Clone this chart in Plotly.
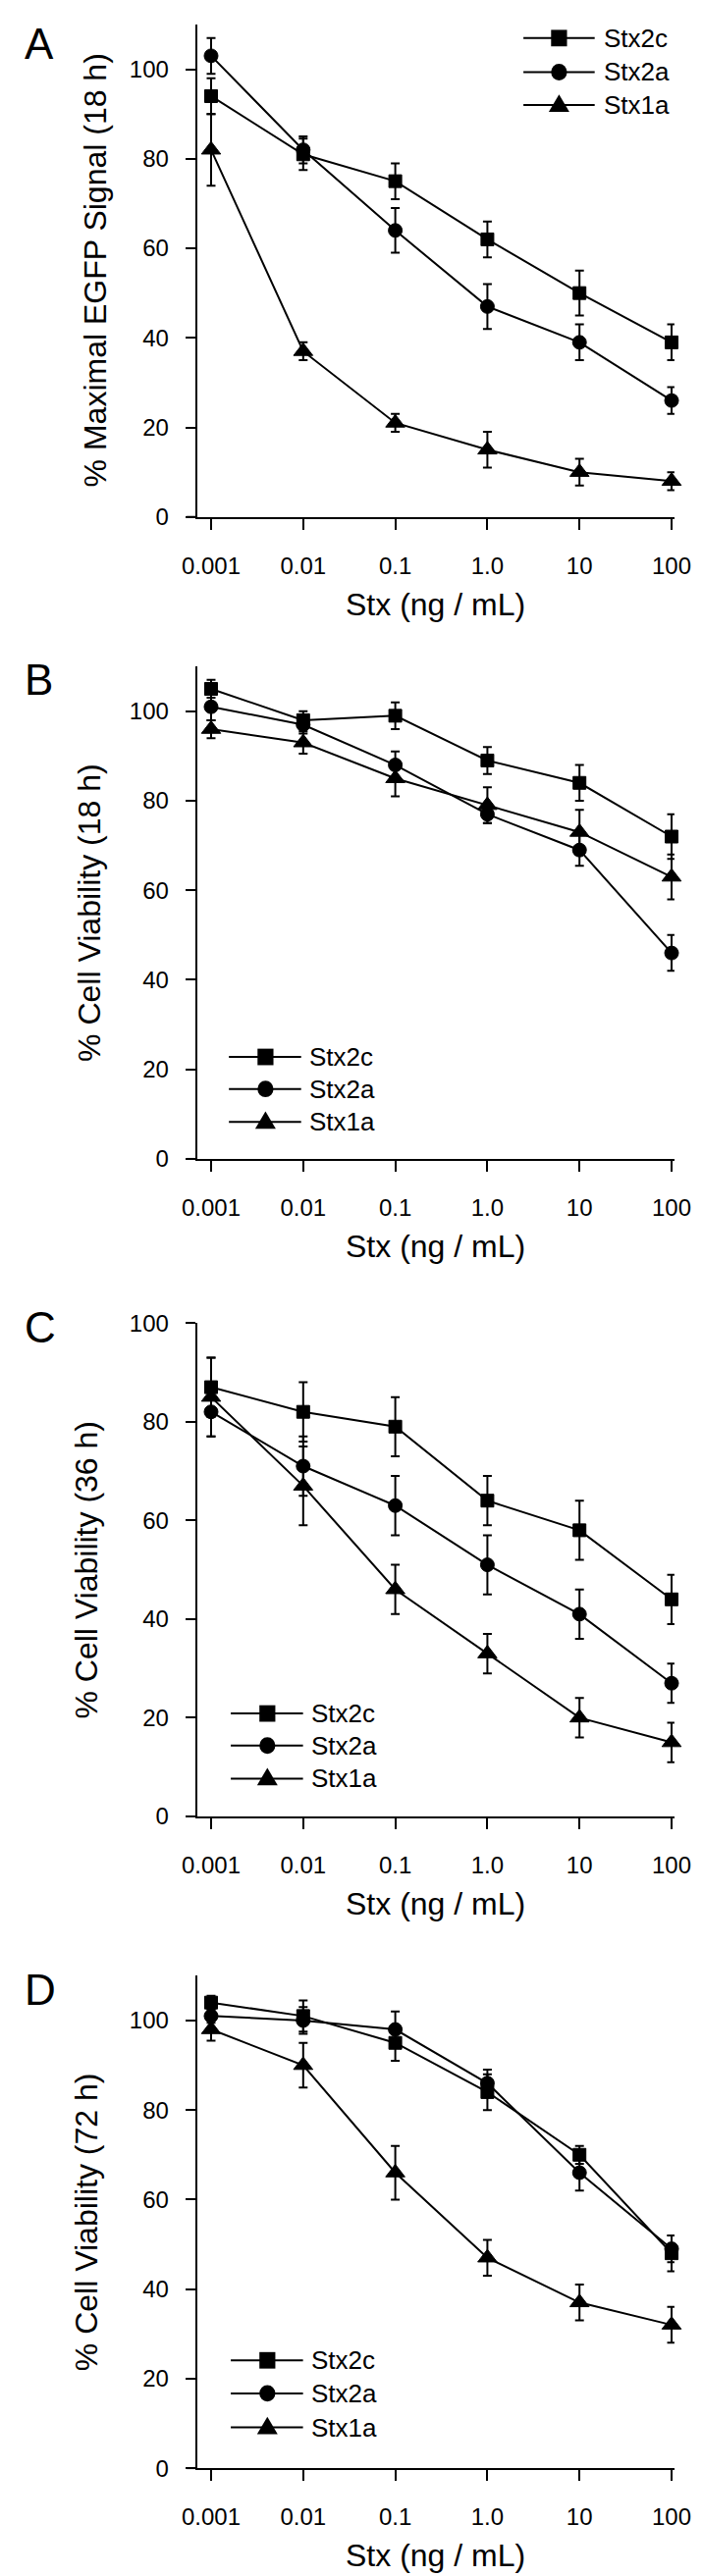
import plotly.graph_objects as go

W, H = 715, 2625

# ---------------- data ----------------
conc = [0.001, 0.01, 0.1, 1, 10, 100]
conc_labels = ["0.001", "0.01", "0.1", "1.0", "10", "100"]
series_names = ["Stx2c", "Stx2a", "Stx1a"]
y_ticks = [0, 20, 40, 60, 80, 100]

# Panel A: % Maximal EGFP Signal (18 h)
a_stx2c = [94, 81, 75, 62, 50, 39]
a_stx2c_err = [4, 3.5, 4, 4, 5, 4]
a_stx2a = [103, 82, 64, 47, 39, 26]
a_stx2a_err = [4, 3, 5, 5, 4, 3]
a_stx1a = [82, 37, 21, 15, 10, 8]
a_stx1a_err = [8, 2, 2, 4, 3, 2]

# Panel B: % Cell Viability (18 h)
b_stx2c = [105, 98, 99, 89, 84, 72]
b_stx2c_err = [2, 2, 3, 3, 4, 5]
b_stx2a = [101, 97, 88, 77, 69, 46]
b_stx2a_err = [3, 2, 3, 2, 3.5, 4]
b_stx1a = [96, 93, 85, 79, 73, 63]
b_stx1a_err = [2, 2.5, 4, 4, 5, 5]

# Panel C: % Cell Viability (36 h)
c_stx2c = [87, 82, 79, 64, 58, 44]
c_stx2c_err = [6, 6, 6, 5, 6, 5]
c_stx2a = [82, 71, 63, 51, 41, 27]
c_stx2a_err = [5, 6, 6, 6, 5, 4]
c_stx1a = [85, 67, 46, 33, 20, 15]
c_stx1a_err = [8, 8, 5, 4, 4, 4]

# Panel D: % Cell Viability (72 h)
d_stx2c = [104, 101, 95, 84, 70, 48]
d_stx2c_err = [1.5, 3.5, 4, 4, 2, 4]
d_stx2a = [101, 100, 98, 86, 66, 49]
d_stx2a_err = [1.5, 3, 4, 3, 4, 3]
d_stx1a = [98, 90, 66, 47, 37, 32]
d_stx1a_err = [2.5, 5, 6, 4, 4, 4]

panel_letters = ["A", "B", "C", "D"]
y_titles = ["% Maximal EGFP Signal (18 h)", "% Cell Viability (18 h)",
            "% Cell Viability (36 h)", "% Cell Viability (72 h)"]
x_title = "Stx (ng / mL)"

# ---------------- layout geometry (pixels) ----------------
FONT = "Liberation Sans, Arial, Helvetica, sans-serif"
px_x = lambda v: v / W
px_y = lambda v: 1 - v / H

X_AXIS_LEFT, X_AXIS_RIGHT = 186, 695
X_LINE_EXT = 175
x_range = [-3.1527, 2.0306]

panels = [
    dict(series=[(a_stx2c, a_stx2c_err), (a_stx2a, a_stx2a_err), (a_stx1a, a_stx1a_err)],
         bottom=510, top=3, ymax=110, letter_y=23, ytitle_x=77,
         leg=dict(x0=534, x1=610, mx=572, tx=618, rows=[17, 52, 86])),
    dict(series=[(b_stx2c, b_stx2c_err), (b_stx2a, b_stx2a_err), (b_stx1a, b_stx1a_err)],
         bottom=1171, top=664, ymax=110, letter_y=677, ytitle_x=71,
         leg=dict(x0=220, x1=297, mx=259, tx=304, rows=[1066, 1099, 1133])),
    dict(series=[(c_stx2c, c_stx2c_err), (c_stx2a, c_stx2a_err), (c_stx1a, c_stx1a_err)],
         bottom=1848, top=1340, ymax=100, letter_y=1344, ytitle_x=68,
         leg=dict(x0=222, x1=299, mx=261, tx=306, rows=[1742, 1775, 1809])),
    dict(series=[(d_stx2c, d_stx2c_err), (d_stx2a, d_stx2a_err), (d_stx1a, d_stx1a_err)],
         bottom=2519, top=2012, ymax=110, letter_y=2026, ytitle_x=68,
         leg=dict(x0=222, x1=299, mx=261, tx=306, rows=[2408, 2442, 2477])),
]

symbols = ["square", "circle", "triangle-up"]
sizes = [13, 14, 17]

fig = go.Figure()
layout = dict(width=W, height=H, margin=dict(l=0, r=0, t=0, b=0),
              paper_bgcolor="white", plot_bgcolor="white", showlegend=False,
              font=dict(family=FONT, color="black"))
shapes, annotations = [], []

for i, p in enumerate(panels):
    n = "" if i == 0 else str(i + 1)
    xa, ya = "x" + n, "y" + n
    for (vals, errs), name, sym, sz in zip(p["series"], series_names, symbols, sizes):
        fig.add_trace(go.Scatter(
            x=conc, y=vals, name=name, mode="lines+markers",
            xaxis=xa, yaxis=ya,
            line=dict(color="black", width=2),
            marker=dict(symbol=sym, size=sz, color="black",
                        line=dict(color="black", width=1)),
            error_y=dict(type="data", array=errs, visible=True,
                         color="black", thickness=2, width=4.5),
            cliponaxis=False,
        ))
    ydom = [px_y(p["bottom"]), px_y(p["top"])]
    layout["xaxis" + n] = dict(
        type="log", range=x_range, domain=[px_x(X_AXIS_LEFT), px_x(X_AXIS_RIGHT)],
        anchor=ya, tickvals=conc, ticktext=conc_labels,
        ticks="outside", ticklen=11, tickwidth=2, tickcolor="black",
        showline=True, linewidth=2, linecolor="black",
        showgrid=False, zeroline=False, ticklabelstandoff=16,
        tickfont=dict(family=FONT, size=24, color="black"))
    layout["yaxis" + n] = dict(
        range=[0, p["ymax"]], domain=ydom, anchor=xa, tickvals=y_ticks,
        ticks="outside", ticklen=10, tickwidth=2, tickcolor="black",
        showline=True, linewidth=2, linecolor="black",
        showgrid=False, zeroline=False, ticklabelstandoff=12,
        tickfont=dict(family=FONT, size=24, color="black"))
    # x-axis line extension to the left of the y axis
    shapes.append(dict(type="line", xref="paper", yref="paper",
                       x0=px_x(X_LINE_EXT), x1=px_x(X_AXIS_LEFT),
                       y0=px_y(p["bottom"]), y1=px_y(p["bottom"]),
                       line=dict(color="black", width=2)))
    # panel letter
    annotations.append(dict(text=panel_letters[i], xref="paper", yref="paper",
                            x=0, y=px_y(p["letter_y"]), xanchor="left", yanchor="middle",
                            showarrow=False, font=dict(family=FONT, size=44, color="black")))
    # axis titles
    annotations.append(dict(text=x_title, xref="paper", yref="paper",
                            x=px_x((X_AXIS_LEFT + X_AXIS_RIGHT) / 2),
                            y=px_y(p["bottom"] + 90), xanchor="center", yanchor="middle",
                            showarrow=False, font=dict(family=FONT, size=32, color="black")))
    annotations.append(dict(text=y_titles[i], xref="paper", yref="paper",
                            x=px_x(p["ytitle_x"]), y=px_y((p["top"] + p["bottom"]) / 2),
                            xanchor="center", yanchor="middle", textangle=-90,
                            showarrow=False, font=dict(family=FONT, size=32, color="black")))
    # legend
    lg = p["leg"]
    for j, (name, sym) in enumerate(zip(series_names, symbols)):
        r = lg["rows"][j]
        shapes.append(dict(type="line", xref="paper", yref="paper",
                           x0=px_x(lg["x0"]), x1=px_x(lg["x1"]), y0=px_y(r), y1=px_y(r),
                           line=dict(color="black", width=2)))
        mx = lg["mx"]
        if sym == "square":
            shapes.append(dict(type="rect", xref="paper", yref="paper",
                               x0=px_x(mx - 8.5), x1=px_x(mx + 8.5),
                               y0=px_y(r + 8.5), y1=px_y(r - 8.5),
                               fillcolor="black", line=dict(width=0)))
        elif sym == "circle":
            shapes.append(dict(type="circle", xref="paper", yref="paper",
                               x0=px_x(mx - 8.5), x1=px_x(mx + 8.5),
                               y0=px_y(r + 8.5), y1=px_y(r - 8.5),
                               fillcolor="black", line=dict(width=0)))
        else:
            path = "M {:.5f},{:.5f} L {:.5f},{:.5f} L {:.5f},{:.5f} Z".format(
                px_x(mx - 11), px_y(r + 7), px_x(mx + 11), px_y(r + 7),
                px_x(mx), px_y(r - 11))
            shapes.append(dict(type="path", xref="paper", yref="paper", path=path,
                               fillcolor="black", line=dict(width=0)))
        annotations.append(dict(text=name, xref="paper", yref="paper",
                                x=px_x(lg["tx"]), y=px_y(r), xanchor="left", yanchor="middle",
                                showarrow=False, font=dict(family=FONT, size=26, color="black")))

layout["shapes"] = shapes
layout["annotations"] = annotations
fig.update_layout(**layout)
fig.write_html("out.html")
